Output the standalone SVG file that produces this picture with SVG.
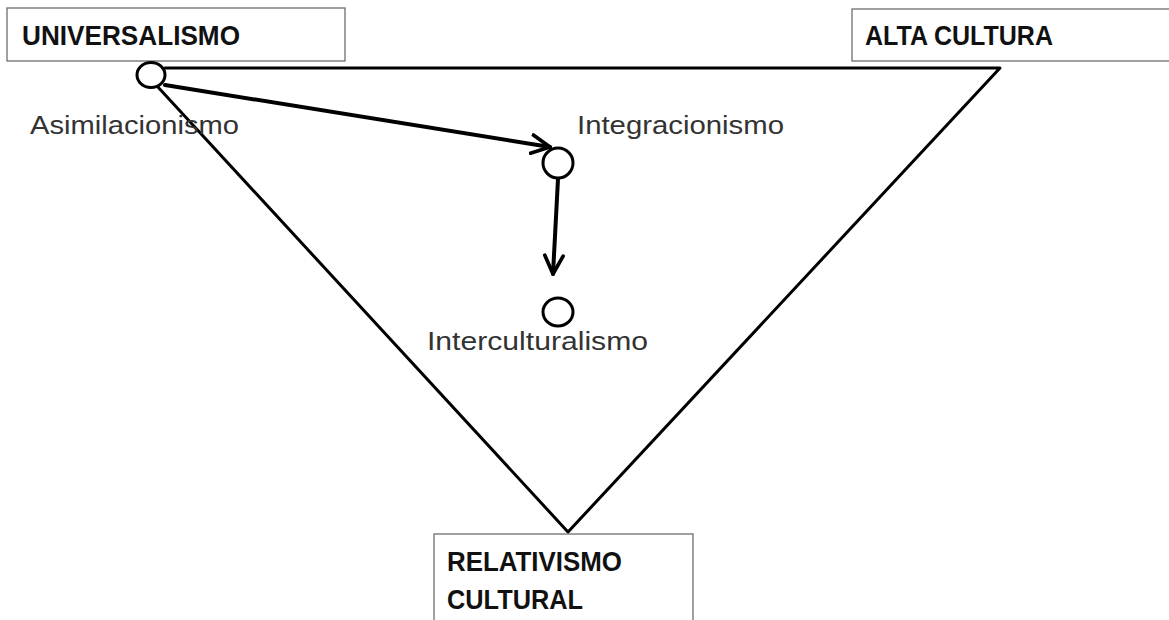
<svg xmlns="http://www.w3.org/2000/svg" width="1169" height="620" viewBox="0 0 1169 620">
  <style>
    .box { fill: #ffffff; stroke: #6e6e6e; stroke-width: 1.3; }
    .title { font-family: "Liberation Sans", Arial, sans-serif; font-weight: bold; font-size: 27.5px; fill: #111111; }
    .label { font-family: "Liberation Sans", Arial, sans-serif; font-size: 26px; fill: #333333; }
    .edge { fill: none; stroke: #000000; stroke-width: 3; stroke-linecap: round; stroke-linejoin: round; }
    .arrow { fill: none; stroke: #000000; stroke-width: 4; stroke-linecap: round; }
    .dot { fill: #ffffff; stroke: #000000; stroke-width: 3; }
  </style>
  <defs>
    <marker id="chevron" viewBox="0 0 12 12" refX="11" refY="6" markerWidth="5.5" markerHeight="5.5" orient="auto" markerUnits="strokeWidth">
      <path d="M1,1 L11,6 L1,11" fill="none" stroke="#000000" stroke-width="2" stroke-linecap="round" stroke-linejoin="round"/>
    </marker>
  </defs>
  <rect width="1169" height="620" fill="#ffffff"/>

  <!-- inverted triangle frame -->
  <g id="triangle">
    <path class="edge" d="M165,68 L1000,68 L568,532 L157,86"/>
  </g>

  <!-- connectors -->
  <g id="connectors">
    <line class="arrow" x1="165" y1="85" x2="550" y2="147" marker-end="url(#chevron)"/>
    <line class="arrow" x1="558" y1="179" x2="553" y2="274" marker-end="url(#chevron)"/>
  </g>

  <g id="universalismo">
    <rect class="box" x="7" y="8" width="338" height="53"/>
    <text class="title" x="22" y="45" textLength="218" lengthAdjust="spacingAndGlyphs">UNIVERSALISMO</text>
  </g>

  <g id="alta-cultura">
    <rect class="box" x="852" y="9" width="330" height="52"/>
    <text class="title" x="865" y="45" textLength="188" lengthAdjust="spacingAndGlyphs">ALTA CULTURA</text>
  </g>

  <g id="relativismo-cultural">
    <rect class="box" x="434" y="534" width="259" height="100"/>
    <text class="title" x="447" y="571" textLength="175" lengthAdjust="spacingAndGlyphs">RELATIVISMO</text>
    <text class="title" x="447" y="609" textLength="136" lengthAdjust="spacingAndGlyphs">CULTURAL</text>
  </g>

  <g id="asimilacionismo">
    <ellipse class="dot" cx="151" cy="75" rx="14" ry="12.5"/>
    <text class="label" x="30" y="134" textLength="209" lengthAdjust="spacingAndGlyphs">Asimilacionismo</text>
  </g>

  <g id="integracionismo">
    <ellipse class="dot" cx="558" cy="163" rx="15" ry="15"/>
    <text class="label" x="577" y="134" textLength="207" lengthAdjust="spacingAndGlyphs">Integracionismo</text>
  </g>

  <g id="interculturalismo">
    <ellipse class="dot" cx="558" cy="312" rx="15" ry="14"/>
    <text class="label" x="427" y="350" textLength="221" lengthAdjust="spacingAndGlyphs">Interculturalismo</text>
  </g>
</svg>
